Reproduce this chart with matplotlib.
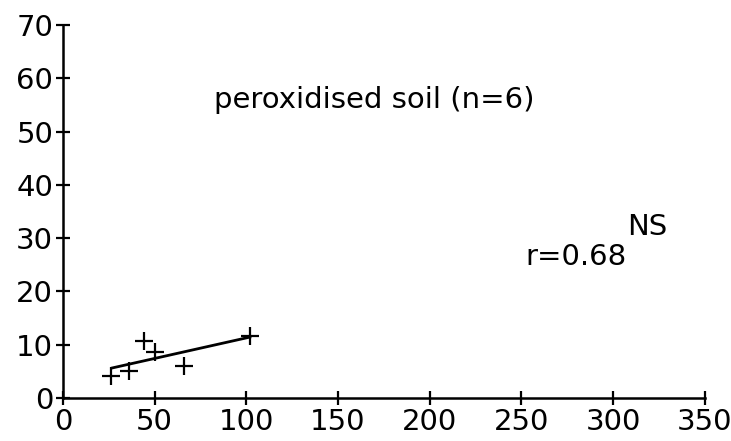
import matplotlib
matplotlib.use("Agg")
import matplotlib.pyplot as plt
import numpy as np

# peroxidised soil samples
x = np.array([26, 36, 44, 50.5, 66, 102])
y = np.array([4.2, 5.1, 10.7, 8.7, 6.0, 11.7])

xticks = [0, 50, 100, 150, 200, 250, 300, 350]
yticks = [0, 10, 20, 30, 40, 50, 60, 70]

title = 'peroxidised soil (n=6)'
r_label = 'r=0.68'
sig_label = 'NS'

# regression line
slope, intercept = np.polyfit(x, y, 1)
xfit = np.array([x.min() + 1, x.max()])
yfit = slope * xfit + intercept

fig = plt.figure(figsize=(7.31, 4.41), dpi=100)
ax = fig.add_axes([0.086, 0.0975, 0.878, 0.846])

ax.plot(x, y, linestyle='none', marker='+', markersize=13, mew=1.6, color='black')
ax.plot(xfit, yfit, color='black', lw=2)

ax.set_xlim(0, 350)
ax.set_ylim(0, 70)
ax.set_xticks(xticks)
ax.set_yticks(yticks)
for s in ['top', 'right']:
    ax.spines[s].set_visible(False)
for s in ['left', 'bottom']:
    ax.spines[s].set_linewidth(1.8)
ax.tick_params(direction='inout', length=10, width=1.6, labelsize=21, pad=2)

ax.text(170, 56, title, fontsize=21, ha='center', va='center')
ax.text(252, 26.5, r_label, fontsize=21, ha='left', va='center')
ax.text(307.5, 32, sig_label, fontsize=21, ha='left', va='center')

fig.savefig('out.png', dpi=100)
